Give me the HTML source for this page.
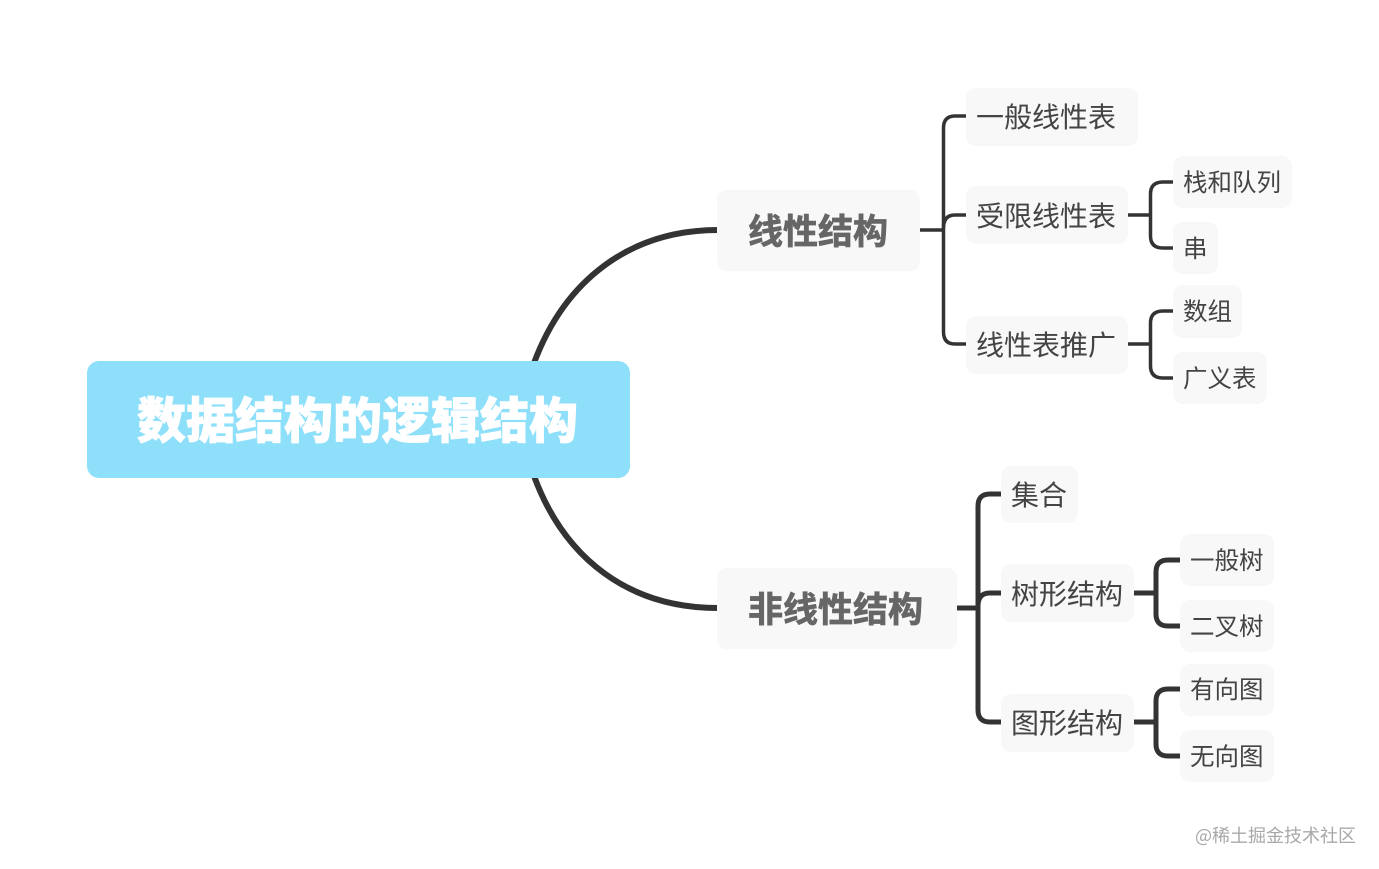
<!DOCTYPE html>
<html lang="zh">
<head>
<meta charset="utf-8">
<title>数据结构的逻辑结构</title>
<style>
html,body{margin:0;padding:0;background:#fff;}
body{width:1379px;height:869px;position:relative;overflow:hidden;font-family:"Liberation Sans","Noto Sans CJK SC",sans-serif;}
svg{position:absolute;left:0;top:0;}
.b{position:absolute;box-sizing:border-box;background:#f8f8f8;border-radius:10px;color:#444;white-space:nowrap;display:flex;align-items:center;font-family:"Noto Sans CJK SC","WenQuanYi Zen Hei",sans-serif;line-height:1;}
.b span{display:block;position:relative;}
.l{font-size:28px;padding-left:10px;font-weight:400;color:#444;}
.s{font-size:24.5px;padding-left:10px;color:#444;}
.m{font-size:35px;font-weight:700;color:#666;padding-left:32px;-webkit-text-stroke:.7px #666;}
.m span{top:-1px;left:-1px;}
.up span{top:-1px;}
.wm{position:absolute;left:1195px;top:824px;font-size:18px;line-height:22px;color:#a8a8a8;white-space:nowrap;font-family:"Noto Sans CJK SC",sans-serif;}
</style>
</head>
<body>
<svg width="1379" height="869" viewBox="0 0 1379 869" fill="none" stroke="#333" stroke-linecap="butt">
  <path d="M718 230 C630 230 565 280 534 363" stroke-width="6"/>
  <path d="M534 476 C565 560 630 608 718 608" stroke-width="6"/>

  <g stroke-width="3.5">
    <path d="M920 230 H943"/>
    <path d="M966 116 H955 Q943.500 116 943.500 128 V332 Q943.500 344 955 344 H966"/>
    <path d="M943.500 228 Q943.500 215 955 215 H966"/>
    <path d="M1128 215 H1150"/>
    <path d="M1173 182 H1163 Q1150.500 182 1150.500 194 V236 Q1150.500 248 1163 248 H1173"/>
    <path d="M1128 344 H1150"/>
    <path d="M1173 311 H1163 Q1150.500 311 1150.500 323 V366 Q1150.500 378 1163 378 H1173"/>
  </g>
  <g stroke-width="5">
    <path d="M956 608 H978"/>
    <path d="M1001 494 H990 Q978 494 978 506 V710 Q978 722 990 722 H1001"/>
    <path d="M978 606 Q978 593 990 593 H1001"/>
    <path d="M1134 593 H1156"/>
    <path d="M1180 560 H1168 Q1156 560 1156 572 V614 Q1156 626 1168 626 H1180"/>
    <path d="M1134 722 H1156"/>
    <path d="M1180 689 H1168 Q1156 689 1156 701 V744 Q1156 756 1168 756 H1180"/>
  </g>
</svg>

<div class="b" style="left:87px;top:361px;width:543px;height:117px;background:#8edffa;border-radius:12px;color:#fff;font-size:49px;font-weight:900;padding-left:50px;-webkit-text-stroke:.8px #fff;"><span style="top:-2px">数据结构的逻辑结构</span></div>

<div class="b m" style="left:717px;top:190px;width:203px;height:81px;"><span>线性结构</span></div>
<div class="b m" style="left:717px;top:568px;width:240px;height:81px;"><span>非线性结构</span></div>

<div class="b l up" style="left:966px;top:88px;width:172px;height:58px;"><span>一般线性表</span></div>
<div class="b l" style="left:966px;top:186px;width:162px;height:58px;"><span>受限线性表</span></div>
<div class="b l up" style="left:966px;top:316px;width:162px;height:58px;"><span>线性表推广</span></div>

<div class="b s" style="left:1173px;top:156px;width:119px;height:52px;"><span>栈和队列</span></div>
<div class="b s" style="left:1173px;top:222px;width:45px;height:52px;"><span>串</span></div>
<div class="b s" style="left:1173px;top:285px;width:69px;height:53px;"><span>数组</span></div>
<div class="b s" style="left:1173px;top:352px;width:94px;height:52px;"><span>广义表</span></div>

<div class="b l up" style="left:1001px;top:466px;width:77px;height:57px;"><span>集合</span></div>
<div class="b l" style="left:1001px;top:564px;width:133px;height:58px;"><span>树形结构</span></div>
<div class="b l up" style="left:1001px;top:694px;width:133px;height:58px;"><span>图形结构</span></div>

<div class="b s" style="left:1180px;top:534px;width:94px;height:52px;"><span>一般树</span></div>
<div class="b s" style="left:1180px;top:600px;width:94px;height:52px;"><span>二叉树</span></div>
<div class="b s up" style="left:1180px;top:664px;width:94px;height:52px;"><span>有向图</span></div>
<div class="b s" style="left:1180px;top:730px;width:94px;height:52px;"><span>无向图</span></div>

<div class="wm">@稀土掘金技术社区</div>
</body>
</html>
